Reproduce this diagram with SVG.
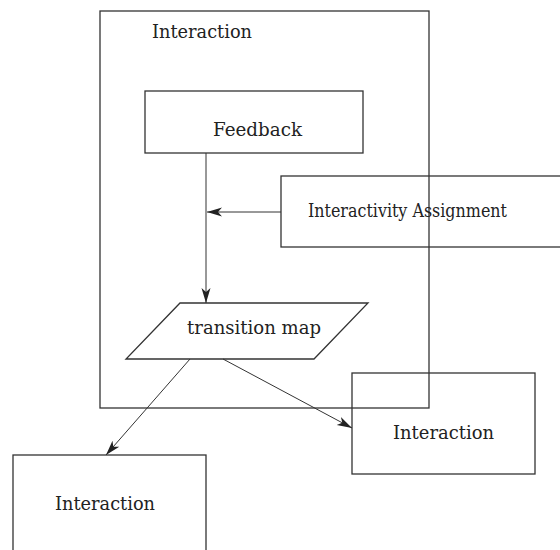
<svg xmlns="http://www.w3.org/2000/svg" width="560" height="550" viewBox="0 0 560 550">
<defs>
<style>
.box{fill:none;stroke:#333;stroke-width:1.3}
.lbl{font-family:"DejaVu Serif","Liberation Serif",serif;font-size:18px;fill:#222}
.con{fill:none;stroke:#333;stroke-width:1}
</style>
<marker id="ah" viewBox="0 0 15 12" refX="15" refY="6" markerWidth="15" markerHeight="12" markerUnits="userSpaceOnUse" orient="auto">
<path d="M0,1.5 L15,6 L0,10.5 L4,6 Z" fill="#222"/>
</marker>
</defs>
<rect width="560" height="550" fill="#fff"/>
<g id="interaction-main">
<rect class="box" x="100" y="11" width="329" height="397"/>
<text class="lbl" x="152" y="38" textLength="100" lengthAdjust="spacingAndGlyphs">Interaction</text>
</g>
<g id="feedback">
<rect class="box" x="145" y="91" width="218" height="62"/>
<text class="lbl" x="213" y="136" textLength="89" lengthAdjust="spacingAndGlyphs">Feedback</text>
</g>
<g id="interactivity-assignment">
<rect class="box" x="281" y="176" width="290" height="71"/>
<text class="lbl" x="308" y="217" font-size="17" textLength="199" lengthAdjust="spacingAndGlyphs">Interactivity Assignment</text>
</g>
<g id="transition-map">
<polygon class="box" points="180,303 368,303 314,359 126,359"/>
<text class="lbl" x="187" y="334" textLength="134" lengthAdjust="spacingAndGlyphs">transition map</text>
</g>
<g id="interaction-right">
<rect class="box" x="352" y="373" width="183" height="101"/>
<text class="lbl" x="393" y="439" textLength="101" lengthAdjust="spacingAndGlyphs">Interaction</text>
</g>
<g id="interaction-left">
<rect class="box" x="13" y="455" width="193" height="110"/>
<text class="lbl" x="55" y="510" textLength="100" lengthAdjust="spacingAndGlyphs">Interaction</text>
</g>
<g id="connectors">
<line class="con" x1="206" y1="153" x2="206" y2="303" marker-end="url(#ah)"/>
<line class="con" x1="281" y1="212" x2="207" y2="212" marker-end="url(#ah)"/>
<line class="con" x1="190" y1="359" x2="106" y2="455" marker-end="url(#ah)"/>
<line class="con" x1="223" y1="359" x2="352" y2="428" marker-end="url(#ah)"/>
</g>
</svg>
